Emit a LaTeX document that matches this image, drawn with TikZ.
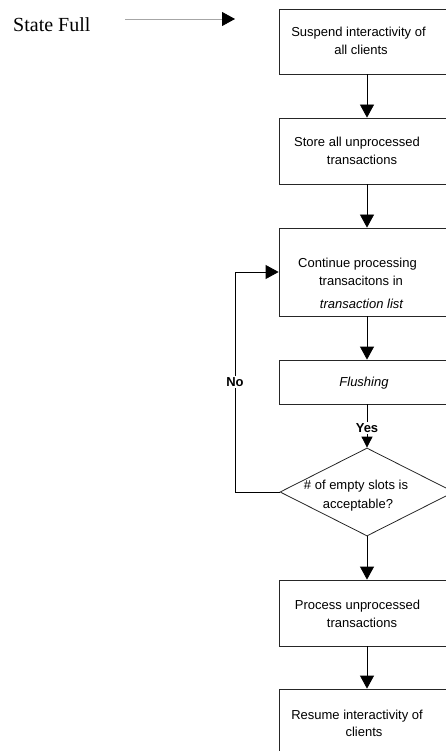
\documentclass[tikz,border=0pt]{standalone}
\usepackage{fontspec}
\setmainfont{Liberation Serif}
\newfontfamily\arialfont{Liberation Sans}
\usetikzlibrary{arrows.meta,shapes.geometric}

\tikzset{
  stepbox/.style={draw=black!85, line width=0.8pt, rectangle, inner sep=0pt,
                  minimum width=176pt},
  decision/.style={draw=black!85, line width=0.8pt, diamond, inner sep=0pt,
                   minimum width=174pt, minimum height=88pt},
  txt/.style={anchor=base, inner sep=0pt, font=\arialfont\fontsize{13}{15}\selectfont},
  itxt/.style={txt, font=\arialfont\itshape\fontsize{13}{15}\selectfont},
  btxt/.style={txt, font=\arialfont\bfseries\fontsize{13}{15}\selectfont},
  flow/.style={line width=0.8pt, -{Triangle[length=13pt,width=14pt]}},
  smallflow/.style={line width=0.8pt, -{Triangle[length=11pt,width=11pt]}},
}

\begin{document}
\begin{tikzpicture}[x=1pt, y=-1pt]
  \useasboundingbox (0,0) rectangle (446,751);
  \clip (0,0) rectangle (446,751);

  % entry label and arrow
  \node[anchor=base west, inner sep=0pt, font=\fontsize{20}{24}\selectfont] (state) at (13,32) {State Full};
  \coordinate (in1) at (125,19);
  \coordinate (in2) at (235,19);
  \draw[black!35, line width=0.8pt, -{Triangle[length=13pt,width=14pt,color=black]}] (in1) -- (in2);

  % process steps
  \node[stepbox, minimum height=65pt] (b1) at (367,41.5) {};
  \node[stepbox, minimum height=66pt] (b2) at (367,151) {};
  \node[stepbox, minimum height=88pt] (b3) at (367,272) {};
  \node[stepbox, minimum height=44pt] (b4) at (367,382) {};
  \node[decision] (d) at (367,492) {};
  \node[stepbox, minimum height=66pt] (b5) at (367,613) {};
  \node[stepbox, minimum height=66pt] (b6) at (367,722) {};

  % step texts
  \node[txt] (t1a) at (358.5,37) {Suspend interactivity of};
  \node[txt] (t1b) at (361,55) {all clients};
  \node[txt] (t2a) at (357,147) {Store all unprocessed};
  \node[txt] (t2b) at (362,165) {transactions};
  \node[txt] (t3a) at (357.5,267) {Continue processing};
  \node[txt] (t3b) at (361,285) {transacitons in};
  \node[itxt] (t3c) at (361.5,308) {transaction list};
  \node[itxt] (t4) at (364,386) {Flushing};
  \node[txt] (td1) at (356,489) {\# of empty slots is};
  \node[txt] (td2) at (358,508) {acceptable?};
  \node[txt] (t5a) at (357.5,609) {Process unprocessed};
  \node[txt] (t5b) at (362,627) {transactions};
  \node[txt] (t6a) at (357,719) {Resume interactivity of};
  \node[txt] (t6b) at (364,736) {clients};

  % main flow
  \draw[flow] (b1.south) -- (b2.north);
  \draw[flow] (b2.south) -- (b3.north);
  \draw[flow] (b3.south) -- (b4.north);
  \draw[smallflow] (b4.south) -- (d.north)
    node[pos=0.55, fill=white, inner sep=1.5pt, font=\arialfont\bfseries\fontsize{13}{15}\selectfont] (yes) {Yes};
  \draw[flow] (d.south) -- (b5.north);
  \draw[flow] (b5.south) -- (b6.north);

  % loop back while slots are insufficient
  \coordinate (loop) at (235,492);
  \draw[flow] (d.west) -- (loop) |- (b3.west)
    node[pos=0.25, fill=white, inner sep=1.5pt, font=\arialfont\bfseries\fontsize{13}{15}\selectfont] (no) {No};
\end{tikzpicture}
\end{document}
